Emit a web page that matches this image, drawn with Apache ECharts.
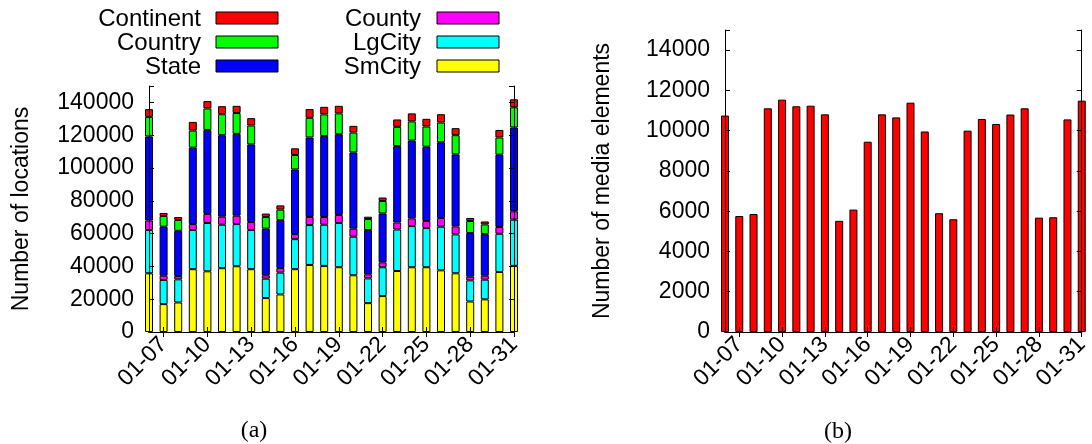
<!DOCTYPE html>
<html>
<head>
<meta charset="utf-8">
<script src="https://cdn.jsdelivr.net/npm/echarts@6/dist/echarts.min.js"></script>
<style>
  html, body { margin: 0; padding: 0; background: #fff; }
  #chart { width: 1092px; height: 444px; }
</style>
</head>
<body>
<div id="chart"></div>
<script>
// Days shown on both panels
const days = ['01-06','01-07','01-08','01-09','01-10','01-11','01-12','01-13','01-14','01-15',
              '01-16','01-17','01-18','01-19','01-20','01-21','01-22','01-23','01-24','01-25',
              '01-26','01-27','01-28','01-29','01-30','01-31'];

// (a) locations per granularity level (stacked, bottom to top)
const smCity    = [35800,17000,18000,38300,37000,38900,40100,38300,20700,22900,38300,40900,40300,39500,34600,17600,21900,37200,39500,39500,37600,35800,18600,19900,36600,40300];
const lgCity    = [26400,14700,14100,23900,29500,26500,25700,23900,11800,13300,18300,24300,25100,27000,23500,15100,17600,25300,25100,23900,26600,23700,12900,12000,23300,28200];
const county    = [5800,2600,2000,3600,5500,4900,5100,4900,2100,2800,3100,4900,4700,4900,4900,2500,3000,4300,4700,4300,5300,4900,2200,2400,4100,5100];
const state     = [51200,29900,27600,46600,51200,49700,49900,47300,28400,29300,39400,48500,49400,49200,46500,27000,29800,46600,47400,45300,46200,43900,26600,25400,44100,51100];
const country   = [12000,6500,6600,10400,13100,12800,12700,11500,7100,6300,8800,12000,13200,12700,12100,6700,7600,11700,11700,12300,12000,11700,7400,5900,10500,12300];
const continent = [4700,1900,1800,5300,4500,4900,4400,4500,2100,2600,4100,5300,4600,4600,4100,1400,2100,4500,4900,4700,5100,4300,1800,1800,4600,4900];

// (b) media elements per day
const media = [10750,5760,5860,11110,11540,11210,11240,10810,5520,6080,9450,10810,10660,11390,9960,5900,5600,10000,10580,10330,10800,11110,5680,5700,10560,11490];

// y-axis tick settings
const locTicks   = { max: 150000, step: 20000, lastLabel: 140000 };
const mediaTicks = { max: 15000,  step: 2000,  lastLabel: 14000 };

const FONT = 'Liberation Sans';
const layers = [
  { name: 'SmCity',    data: smCity,    color: '#ffff00' },
  { name: 'LgCity',    data: lgCity,    color: '#00ffff' },
  { name: 'County',    data: county,    color: '#ff00ff' },
  { name: 'State',     data: state,     color: '#0000ff' },
  { name: 'Country',   data: country,   color: '#00ff00' },
  { name: 'Continent', data: continent, color: '#ff0000' }
];

// every third day carries a tick and a label, starting at 01-07
const everyThird = (idx) => idx % 3 === 1;

function xAxes(gridIndex) {
  const base = {
    type: 'category', gridIndex, data: days, boundaryGap: false, z: 5,
    axisLine: { show: true, lineStyle: { color: '#000', width: 1 } },
    axisTick: { show: true, inside: true, length: 5, interval: everyThird, lineStyle: { color: '#000' } },
    splitLine: { show: false }
  };
  return [
    Object.assign({}, base, {
      position: 'bottom',
      axisLabel: { interval: everyThird, rotate: 45, margin: 9, fontSize: 23, color: '#000', fontFamily: FONT }
    }),
    Object.assign({}, base, { position: 'top', axisLabel: { show: false } })
  ];
}

function yAxes(gridIndex, ticks, name, gap) {
  const base = {
    type: 'value', gridIndex, min: 0, max: ticks.max, interval: ticks.step, z: 5,
    axisLine: { show: true, lineStyle: { color: '#000', width: 1 } },
    axisTick: { show: true, inside: true, length: 5, lineStyle: { color: '#000' } },
    splitLine: { show: false }
  };
  return [
    Object.assign({}, base, {
      position: 'left', name, nameLocation: 'middle', nameGap: gap,
      nameTextStyle: { fontSize: 23, color: '#000', fontFamily: FONT },
      axisLabel: {
        margin: 15, fontSize: 23, color: '#000', fontFamily: FONT,
        formatter: (v) => (v > ticks.lastLabel ? '' : String(v))
      }
    }),
    Object.assign({}, base, { position: 'right', axisLabel: { show: false } })
  ];
}

const barStyle = { borderColor: '#000', borderWidth: 1 };

const series = layers.map((l) => ({
  name: l.name, type: 'bar', stack: 'loc', xAxisIndex: 0, yAxisIndex: 0,
  data: l.data, barWidth: 8, clip: true,
  itemStyle: Object.assign({ color: l.color }, barStyle)
}));
series.push({
  name: 'Media', type: 'bar', xAxisIndex: 2, yAxisIndex: 2,
  data: media, barWidth: 8, clip: true,
  itemStyle: Object.assign({ color: '#ff0000' }, barStyle)
});

// legend for panel (a): two columns, label right-aligned before a colour swatch
const legendColumns = [
  { names: ['Continent', 'Country', 'State'], textRight: 201, boxLeft: 216 },
  { names: ['County', 'LgCity', 'SmCity'],    textRight: 421, boxLeft: 437 }
];
const legendRows = [18, 42, 66];
const legendGraphics = [];
legendColumns.forEach((col) => {
  col.names.forEach((nm, r) => {
    const layer = layers.find((l) => l.name === nm);
    legendGraphics.push({
      type: 'text', x: col.textRight, y: legendRows[r] + 1,
      style: { text: nm, fontSize: 24, fontFamily: FONT, fill: '#000', textAlign: 'right', textVerticalAlign: 'middle' }
    });
    legendGraphics.push({
      type: 'rect', shape: { x: col.boxLeft, y: legendRows[r] - 6, width: 62, height: 12 },
      style: { fill: layer.color, stroke: '#000', lineWidth: 1 }
    });
  });
});

const captionStyle = { fontSize: 24, fontFamily: 'Liberation Serif', fill: '#000', textAlign: 'center', textVerticalAlign: 'middle' };
const captions = [
  { type: 'text', x: 254, y: 431, style: Object.assign({ text: '(a)' }, captionStyle) },
  { type: 'text', x: 838, y: 432, style: Object.assign({ text: '(b)' }, captionStyle) }
];

const chart = echarts.init(document.getElementById('chart'), null, { renderer: 'canvas' });
chart.setOption({
  animation: false,
  backgroundColor: '#fff',
  grid: [
    { left: 149, top: 86, width: 365, height: 246, containLabel: false },
    { left: 725, top: 30, width: 365, height: 302, containLabel: false }
  ],
  xAxis: xAxes(0).concat(xAxes(1)),
  yAxis: yAxes(0, locTicks, 'Number of locations', 116).concat(yAxes(1, mediaTicks, 'Number of media elements', 111)),
  series,
  graphic: legendGraphics.concat(captions)
});
</script>
</body>
</html>
